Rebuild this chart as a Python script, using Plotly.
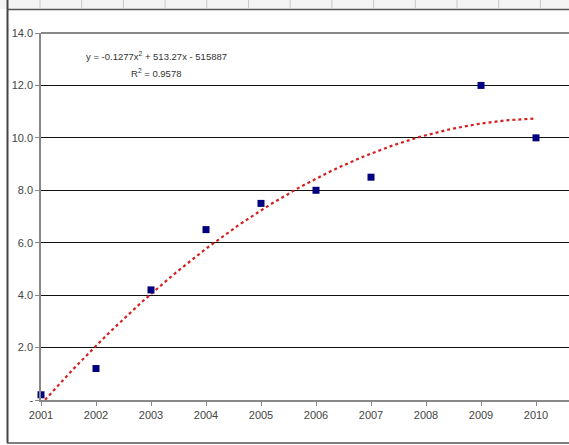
import numpy as np
import plotly.graph_objects as go

years = [2001, 2002, 2003, 2004, 2005, 2006, 2007, 2009, 2010]
values = [0.2, 1.2, 4.2, 6.5, 7.5, 8.0, 8.5, 12.0, 10.0]
x_ticks = list(range(2001, 2011))
y_ticks = [0, 2, 4, 6, 8, 10, 12, 14]
y_tick_labels = ["-", "2.0", "4.0", "6.0", "8.0", "10.0", "12.0", "14.0"]
equation_text = "y = -0.1277x<sup>2</sup> + 513.27x - 515887"
r2_text = "R<sup>2</sup> = 0.9578"

# polynomial (order 2) trendline fitted to the data
xa = np.array(years, dtype=float)
ya = np.array(values, dtype=float)
x0 = xa.mean()
coef = np.polyfit(xa - x0, ya, 2)
xt = np.linspace(2001, 2010, 200)
yt = np.polyval(coef, xt - x0)

W, H = 569, 445
ML, MR, MT, MB = 41, 0, 33, 45
PW = W - ML - MR
PH = H - MT - MB


def px(x):
    return (x - ML) / PW


def py(y):
    return (H - MB - y) / PH


fig = go.Figure()
fig.add_trace(go.Scatter(
    x=xt, y=yt, mode="lines",
    line=dict(color="#d42020", width=2.2, dash="dot"),
    hoverinfo="skip", showlegend=False,
))
fig.add_trace(go.Scatter(
    x=years, y=values, mode="markers", cliponaxis=False,
    marker=dict(symbol="square", size=7, color="#000080",
                line=dict(width=0)),
    showlegend=False,
))

shapes = []
# top spreadsheet strip
shapes.append(dict(type="rect", xref="paper", yref="paper",
                   x0=px(0), x1=px(W), y0=py(0), y1=py(9),
                   fillcolor="#f4f4f4", line=dict(width=0), layer="below"))
for k in range(14):
    xx = 40 + 41.7 * k
    shapes.append(dict(type="line", xref="paper", yref="paper",
                       x0=px(xx), x1=px(xx), y0=py(0), y1=py(8),
                       line=dict(color="#c8c8c8", width=1)))
shapes.append(dict(type="line", xref="paper", yref="paper",
                   x0=px(7), x1=px(W), y0=py(9.5), y1=py(9.5),
                   line=dict(color="#555555", width=1.5)))
# outer chart frame
shapes.append(dict(type="line", xref="paper", yref="paper",
                   x0=px(7.5), x1=px(7.5), y0=py(0), y1=py(443),
                   line=dict(color="#444444", width=2)))
shapes.append(dict(type="line", xref="paper", yref="paper",
                   x0=px(7), x1=px(W), y0=py(443), y1=py(443),
                   line=dict(color="#555555", width=1.5)))
# plot-area top border
shapes.append(dict(type="line", xref="paper", yref="paper",
                   x0=0, x1=1, y0=1, y1=1,
                   line=dict(color="#888888", width=2)))

fig.update_layout(
    width=W, height=H,
    margin=dict(l=ML, r=MR, t=MT, b=MB),
    paper_bgcolor="white", plot_bgcolor="white",
    font=dict(family="Liberation Sans Narrow, Arial Narrow, Arial, sans-serif",
              size=11, color="#333333"),
    shapes=shapes,
    annotations=[
        dict(x=px(156), y=py(56), xref="paper", yref="paper",
             xanchor="center", yanchor="middle",
             text=equation_text, showarrow=False,
             font=dict(size=9.5, color="#333333")),
        dict(x=px(156), y=py(73), xref="paper", yref="paper",
             xanchor="center", yanchor="middle",
             text=r2_text, showarrow=False,
             font=dict(size=9.5, color="#333333")),
    ],
    xaxis=dict(
        range=[2001, 2010.6],
        tickmode="array", tickvals=x_ticks,
        ticktext=[str(v) for v in x_ticks],
        showgrid=False, zeroline=False,
        showline=True, linecolor="#888888", linewidth=1.5,
        ticks="outside", ticklen=4, tickcolor="#888888",
        tickfont=dict(size=11, color="#444444"),
    ),
    yaxis=dict(
        range=[0, 14],
        tickmode="array", tickvals=y_ticks, ticktext=y_tick_labels,
        showgrid=True, gridcolor="#111111", gridwidth=1,
        zeroline=False,
        showline=True, linecolor="#888888", linewidth=1.5,
        ticks="outside", ticklen=4, tickcolor="#888888",
        tickfont=dict(size=11, color="#444444"),
    ),
)

fig.write_html("out.html",
               config={"displayModeBar": False},
               post_script="document.body.style.margin='0';"
                           "document.body.style.overflow='hidden';")
